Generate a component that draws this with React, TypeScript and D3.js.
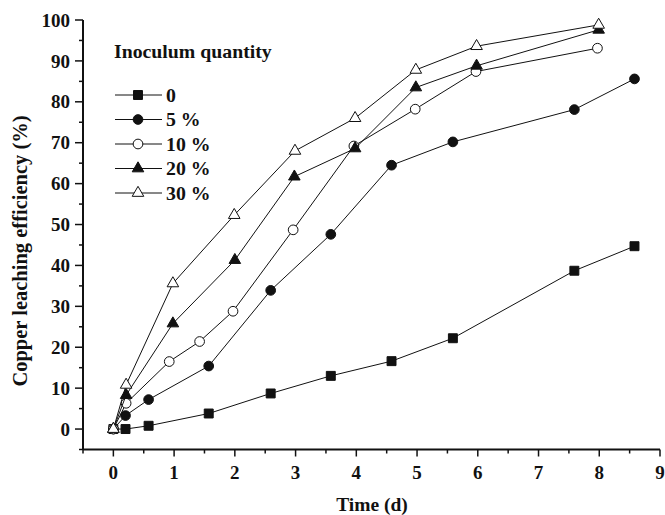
import React from 'react';
import * as d3 from 'd3';

// time (d) and copper leaching efficiency (%) for each inoculum quantity
const time0 = [0, 0.2, 0.58, 1.57, 2.59, 3.58, 4.58, 5.59, 7.59, 8.58];
const eff0 = [0, 0, 0.8, 3.8, 8.7, 13.0, 16.6, 22.2, 38.7, 44.7];
const time5 = [0, 0.2, 0.58, 1.57, 2.59, 3.58, 4.58, 5.59, 7.59, 8.58];
const eff5 = [0, 3.3, 7.2, 15.4, 33.9, 47.6, 64.5, 70.2, 78.1, 85.6];
const time10 = [0, 0.21, 0.92, 1.42, 1.97, 2.96, 3.96, 4.97, 5.97, 7.97];
const eff10 = [0, 6.3, 16.5, 21.4, 28.8, 48.7, 69.2, 78.2, 87.4, 93.1];
const time20 = [0, 0.21, 0.98, 2.0, 2.98, 3.98, 4.98, 5.98, 7.99];
const eff20 = [0, 8.3, 25.8, 41.3, 61.7, 68.6, 83.5, 88.8, 97.6];
const time30 = [0, 0.21, 0.98, 1.99, 2.99, 3.98, 4.98, 5.98, 7.99];
const eff30 = [0, 10.8, 35.6, 52.3, 68.0, 76.0, 87.8, 93.6, 98.8];

const seriesLabels = ['0', '5 %', '10 %', '20 %', '30 %'];
const xTicks = [0, 1, 2, 3, 4, 5, 6, 7, 8, 9];
const yTicks = [0, 10, 20, 30, 40, 50, 60, 70, 80, 90, 100];

const W = 665;
const H = 515;
const FONT = '"Liberation Serif", "Times New Roman", serif';

const x = d3.scaleLinear().domain([-0.5, 9]).range([83, 660]);
const y = d3.scaleLinear().domain([-5, 100]).range([449.5, 20]);

const series = [
  { name: seriesLabels[0], t: time0, v: eff0, shape: d3.symbolSquare, size: 80, fill: '#111' },
  { name: seriesLabels[1], t: time5, v: eff5, shape: d3.symbolCircle, size: 74, fill: '#111' },
  { name: seriesLabels[2], t: time10, v: eff10, shape: d3.symbolCircle, size: 74, fill: '#fff' },
  { name: seriesLabels[3], t: time20, v: eff20, shape: d3.symbolTriangle, size: 58, fill: '#111' },
  { name: seriesLabels[4], t: time30, v: eff30, shape: d3.symbolTriangle, size: 58, fill: '#fff' },
];

const line = d3.line<[number, number]>().x(d => x(d[0])).y(d => y(d[1]));

const App = () => {
  const xMinor = d3.range(-0.5, 9.01, 0.5).filter(v => !Number.isInteger(v));
  const yMinor = d3.range(-5, 100, 10);

  return (
    <div style={{ position: 'absolute', left: 0, top: 0 }}>
      <svg width={W} height={H} style={{ display: 'block', background: '#fff' }} fontFamily={FONT}>
        {/* data */}
        {series.map((s, i) => {
          const pts: [number, number][] = s.t.map((t, j) => [t, s.v[j]]);
          const sym = d3.symbol().type(s.shape).size(s.size)();
          return (
            <g key={i}>
              <path d={line(pts) || ''} fill="none" stroke="#111" strokeWidth={1} />
              {pts.map((p, j) => (
                <path key={j} d={sym || ''} transform={`translate(${x(p[0])},${y(p[1])})`}
                  fill={s.fill} stroke="#111" strokeWidth={1} />
              ))}
            </g>
          );
        })}

        {/* axes */}
        <line x1={x(-0.5)} x2={x(-0.5)} y1={y(100)} y2={y(-5)} stroke="#111" strokeWidth={2} />
        <line x1={x(-0.5)} x2={x(9)} y1={y(-5)} y2={y(-5)} stroke="#111" strokeWidth={2} />
        {yTicks.map(v => (
          <g key={v}>
            <line x1={x(-0.5) - 8} x2={x(-0.5)} y1={y(v)} y2={y(v)} stroke="#111" strokeWidth={1.5} />
            <text x={x(-0.5) - 13} y={y(v)} dy="0.35em" textAnchor="end" fontSize={19} fontWeight="bold" fill="#111">{v}</text>
          </g>
        ))}
        {yMinor.map(v => (
          <line key={v} x1={x(-0.5) - 4} x2={x(-0.5)} y1={y(v)} y2={y(v)} stroke="#111" strokeWidth={1.5} />
        ))}
        {xTicks.map(v => (
          <g key={v}>
            <line x1={x(v)} x2={x(v)} y1={y(-5)} y2={y(-5) + 7} stroke="#111" strokeWidth={1.5} />
            <text x={x(v)} y={479} textAnchor="middle" fontSize={19} fontWeight="bold" fill="#111">{v}</text>
          </g>
        ))}
        {xMinor.map(v => (
          <line key={v} x1={x(v)} x2={x(v)} y1={y(-5)} y2={y(-5) + 4} stroke="#111" strokeWidth={1.5} />
        ))}

        {/* axis titles */}
        <text x={372} y={511} textAnchor="middle" fontSize={19.5} fontWeight="bold" fill="#111">Time (d)</text>
        <text transform="translate(27,251) rotate(-90)" textAnchor="middle" fontSize={20.5} fontWeight="bold" fill="#111">
          Copper leaching efficiency (%)
        </text>

        {/* legend */}
        <text x={114} y={58} fontSize={19.8} fontWeight="bold" fill="#111">Inoculum quantity</text>
        {series.map((s, i) => {
          const cy = 95 + i * 24.5;
          const sym = d3.symbol().type(s.shape).size(s.size)();
          return (
            <g key={i}>
              <line x1={115} x2={162} y1={cy} y2={cy} stroke="#111" strokeWidth={1} />
              <path d={sym || ''} transform={`translate(138,${cy})`} fill={s.fill} stroke="#111" strokeWidth={1} />
              <text x={166} y={cy} dy="0.35em" fontSize={19.8} fontWeight="bold" fill="#111">{s.name}</text>
            </g>
          );
        })}
      </svg>
    </div>
  );
};

export default App;
